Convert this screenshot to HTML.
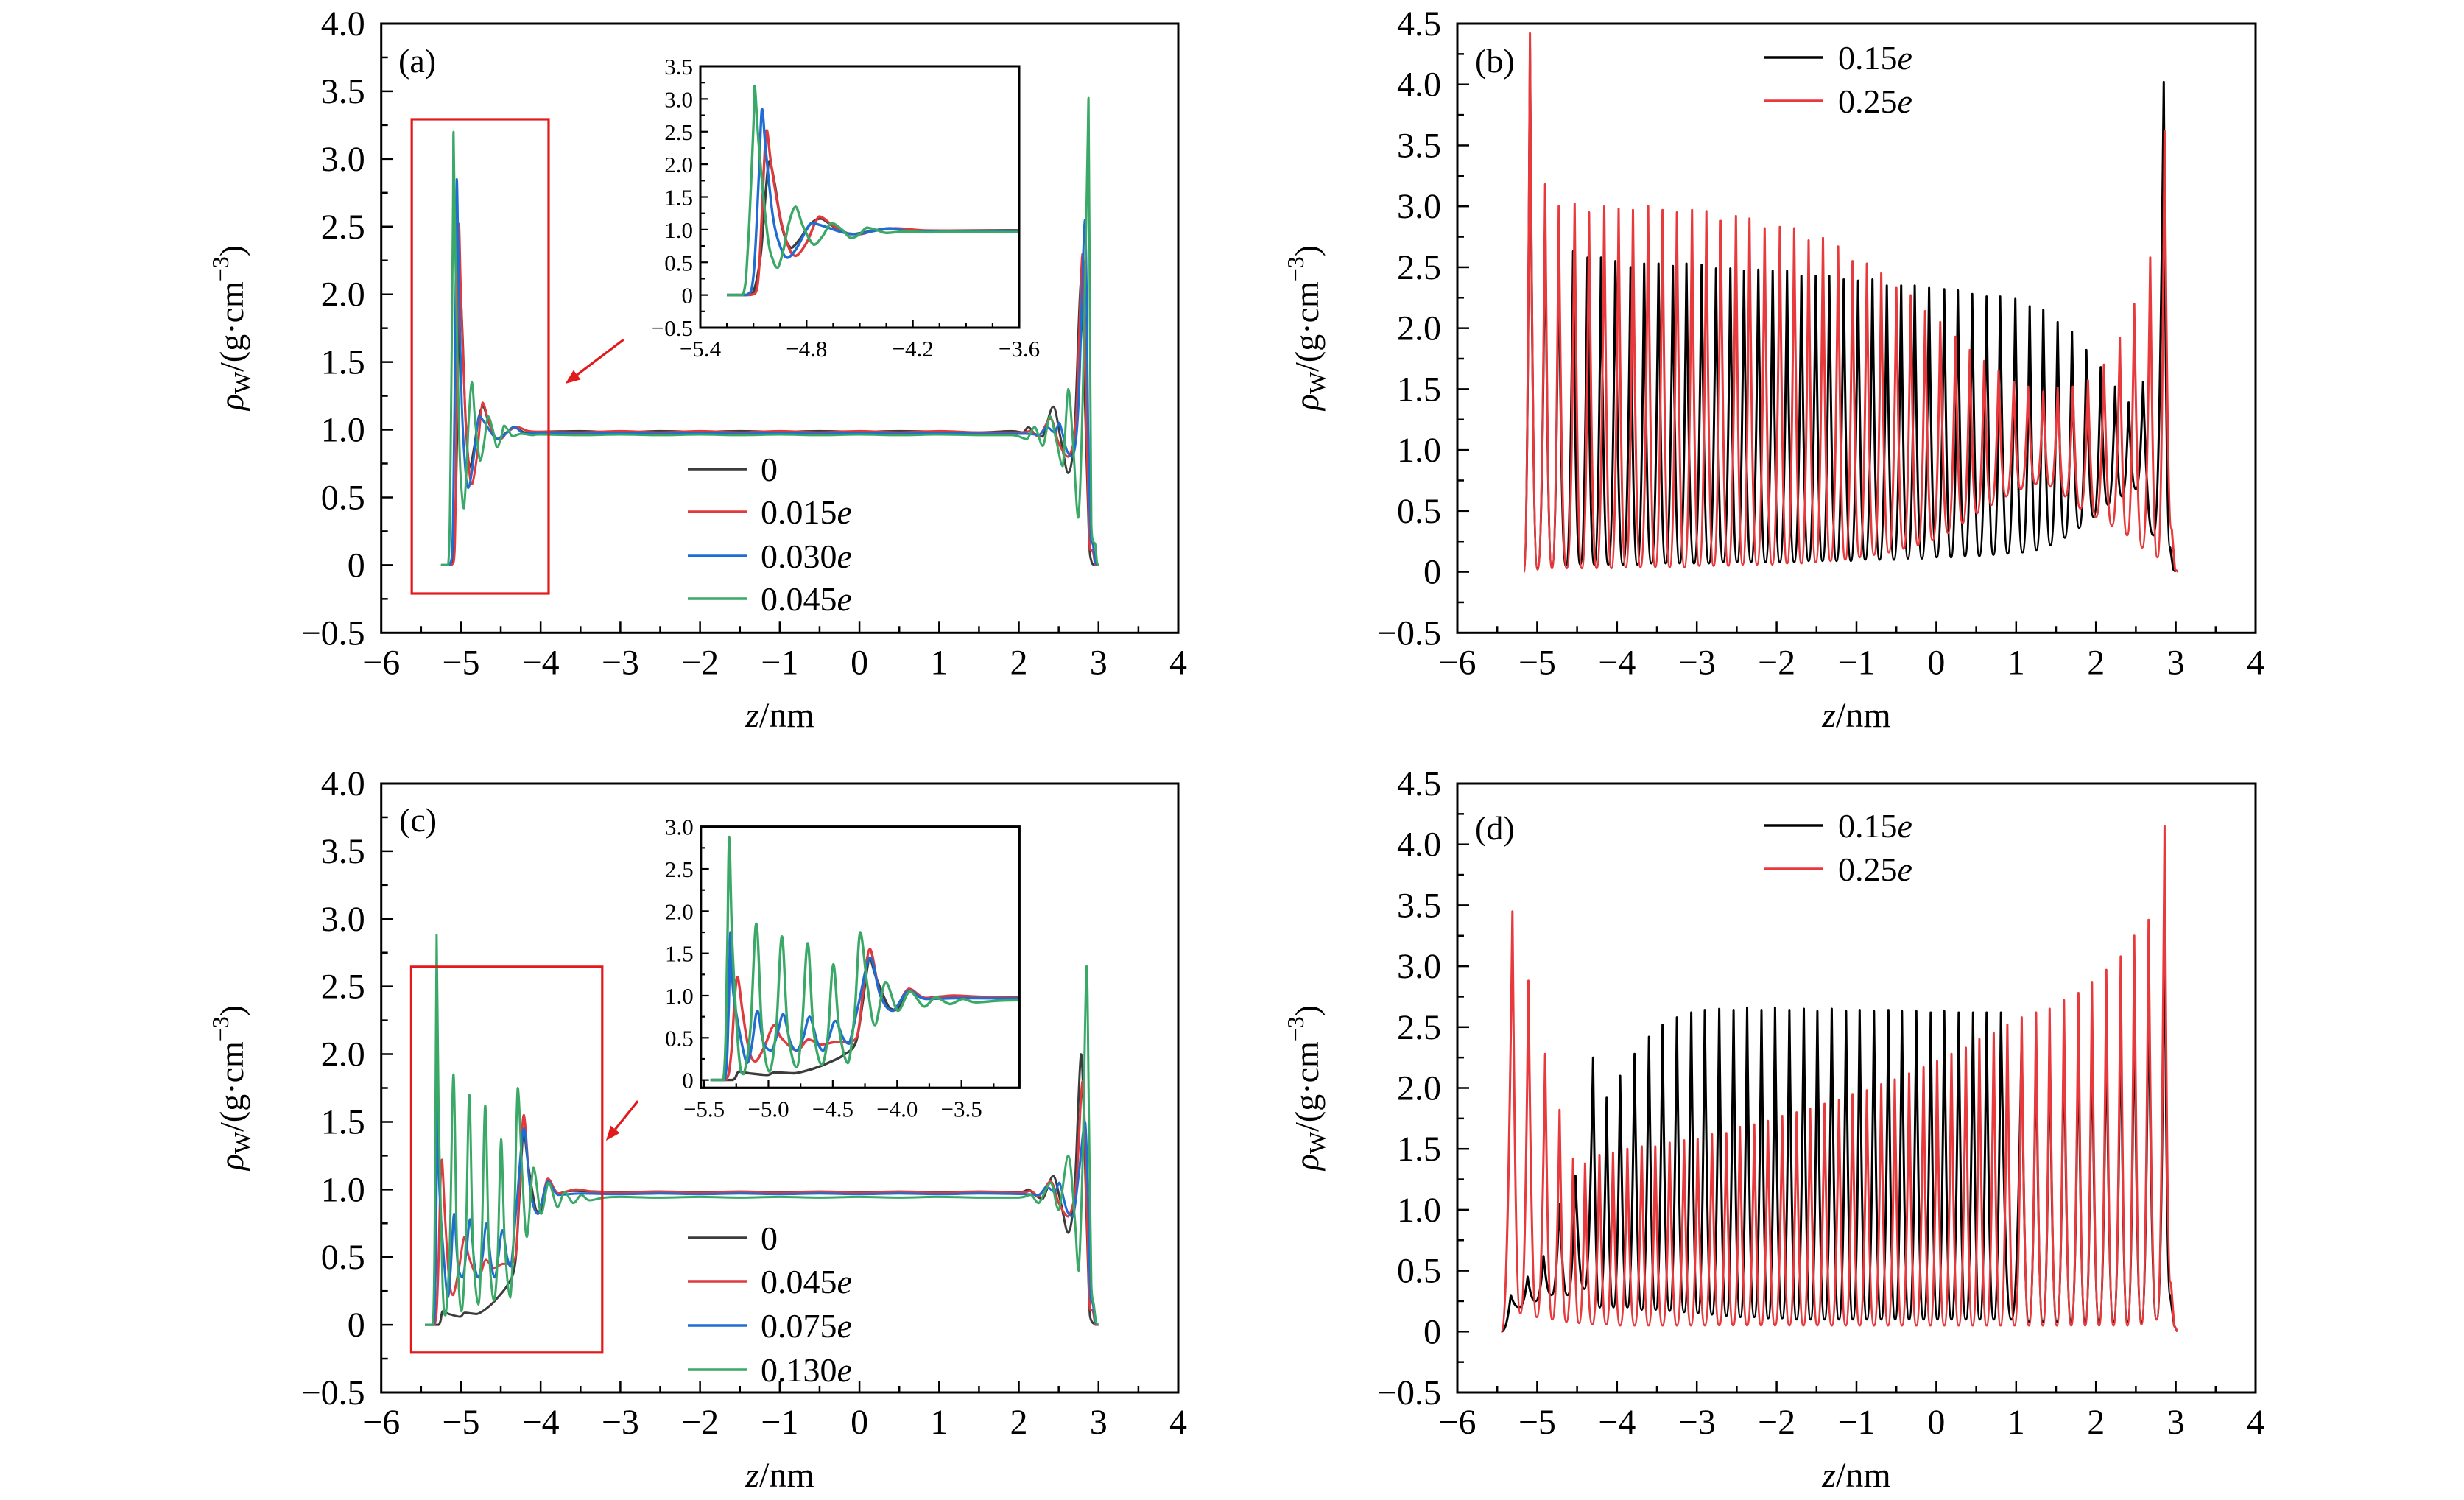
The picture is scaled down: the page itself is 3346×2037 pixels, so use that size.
<!DOCTYPE html>
<html>
<head>
<meta charset="utf-8">
<style>
html,body{margin:0;padding:0;background:#fff;}
svg{display:block;}
text{font-family:"Liberation Serif","DejaVu Serif",serif;fill:#000;}
</style>
</head>
<body>
<svg id="chart" xmlns="http://www.w3.org/2000/svg" width="3346" height="2037" viewBox="0 0 3346 2037">
<rect x="0" y="0" width="3346" height="2037" fill="#fff"/>
<defs>
<clipPath id="clipIA"><rect x="951" y="90" width="433" height="355"/></clipPath>
<clipPath id="clipIC"><rect x="951.7" y="1122.7" width="432.6" height="354.6"/></clipPath>
</defs>

<text x="541" y="98" font-size="46">(a)</text>
<text x="2003" y="98" font-size="46">(b)</text>
<text x="542" y="1129" font-size="46">(c)</text>
<text x="2003" y="1140" font-size="46">(d)</text>

<text x="1059" y="987" font-size="48" text-anchor="middle"><tspan font-style="italic">z</tspan>/nm</text>
<text x="2521" y="987" font-size="48" text-anchor="middle"><tspan font-style="italic">z</tspan>/nm</text>
<text x="1059" y="2019" font-size="48" text-anchor="middle"><tspan font-style="italic">z</tspan>/nm</text>
<text x="2521" y="2019" font-size="48" text-anchor="middle"><tspan font-style="italic">z</tspan>/nm</text>

<text transform="translate(330,445) rotate(-90)" font-size="46" text-anchor="middle"><tspan font-style="italic">ρ</tspan><tspan font-size="32" dy="10">W</tspan><tspan dy="-10">/(g·cm</tspan><tspan font-size="32" dy="-20">−3</tspan><tspan dy="20">)</tspan></text>
<text transform="translate(1790,445) rotate(-90)" font-size="46" text-anchor="middle"><tspan font-style="italic">ρ</tspan><tspan font-size="32" dy="10">W</tspan><tspan dy="-10">/(g·cm</tspan><tspan font-size="32" dy="-20">−3</tspan><tspan dy="20">)</tspan></text>
<text transform="translate(330,1477) rotate(-90)" font-size="46" text-anchor="middle"><tspan font-style="italic">ρ</tspan><tspan font-size="32" dy="10">W</tspan><tspan dy="-10">/(g·cm</tspan><tspan font-size="32" dy="-20">−3</tspan><tspan dy="20">)</tspan></text>
<text transform="translate(1790,1477) rotate(-90)" font-size="46" text-anchor="middle"><tspan font-style="italic">ρ</tspan><tspan font-size="32" dy="10">W</tspan><tspan dy="-10">/(g·cm</tspan><tspan font-size="32" dy="-20">−3</tspan><tspan dy="20">)</tspan></text>

<g>
<line x1="934" y1="637" x2="1015" y2="637" stroke="#3c3c3c" stroke-width="3.5"/>
<text x="1033" y="653" font-size="46">0</text>
<line x1="934" y1="695" x2="1015" y2="695" stroke="#e0393e" stroke-width="3.5"/>
<text x="1033" y="711" font-size="46">0.015<tspan font-style="italic">e</tspan></text>
<line x1="934" y1="755" x2="1015" y2="755" stroke="#1f6dd3" stroke-width="3.5"/>
<text x="1033" y="771" font-size="46">0.030<tspan font-style="italic">e</tspan></text>
<line x1="934" y1="813" x2="1015" y2="813" stroke="#3aa866" stroke-width="3.5"/>
<text x="1033" y="829" font-size="46">0.045<tspan font-style="italic">e</tspan></text>
</g>
<g>
<line x1="934" y1="1681" x2="1015" y2="1681" stroke="#3c3c3c" stroke-width="3.5"/>
<text x="1033" y="1697" font-size="46">0</text>
<line x1="934" y1="1740" x2="1015" y2="1740" stroke="#e0393e" stroke-width="3.5"/>
<text x="1033" y="1756" font-size="46">0.045<tspan font-style="italic">e</tspan></text>
<line x1="934" y1="1800" x2="1015" y2="1800" stroke="#1f6dd3" stroke-width="3.5"/>
<text x="1033" y="1816" font-size="46">0.075<tspan font-style="italic">e</tspan></text>
<line x1="934" y1="1860" x2="1015" y2="1860" stroke="#3aa866" stroke-width="3.5"/>
<text x="1033" y="1876" font-size="46">0.130<tspan font-style="italic">e</tspan></text>
</g>
<g>
<line x1="2395" y1="78" x2="2475" y2="78" stroke="#000" stroke-width="3.5"/>
<text x="2496" y="94" font-size="46">0.15<tspan font-style="italic">e</tspan></text>
<line x1="2395" y1="137" x2="2475" y2="137" stroke="#e8393c" stroke-width="3.5"/>
<text x="2496" y="153" font-size="46">0.25<tspan font-style="italic">e</tspan></text>
</g>
<g>
<line x1="2395" y1="1121" x2="2475" y2="1121" stroke="#000" stroke-width="3.5"/>
<text x="2496" y="1137" font-size="46">0.15<tspan font-style="italic">e</tspan></text>
<line x1="2395" y1="1180" x2="2475" y2="1180" stroke="#e8393c" stroke-width="3.5"/>
<text x="2496" y="1196" font-size="46">0.25<tspan font-style="italic">e</tspan></text>
</g>
</svg>

<script>
const mainXTicks = [-6,-5,-4,-3,-2,-1,0,1,2,3,4];
const mainXLabels = ['−6','−5','−4','−3','−2','−1','0','1','2','3','4'];
const yTicksAC = [-0.5,0,0.5,1,1.5,2,2.5,3,3.5,4];
const yLabelsAC = ['−0.5','0','0.5','1.0','1.5','2.0','2.5','3.0','3.5','4.0'];
const yTicksBD = [-0.5,0,0.5,1,1.5,2,2.5,3,3.5,4,4.5];
const yLabelsBD = ['−0.5','0','0.5','1.0','1.5','2.0','2.5','3.0','3.5','4.0','4.5'];
const insetAXTicks = [-5.4,-4.8,-4.2,-3.6];
const insetAXLabels = ['−5.4','−4.8','−4.2','−3.6'];
const insetAYTicks = [-0.5,0,0.5,1,1.5,2,2.5,3,3.5];
const insetAYLabels = ['−0.5','0','0.5','1.0','1.5','2.0','2.5','3.0','3.5'];
const insetCXTicks = [-5.5,-5.0,-4.5,-4.0,-3.5];
const insetCXLabels = ['−5.5','−5.0','−4.5','−4.0','−3.5'];
const insetCYTicks = [0,0.5,1,1.5,2,2.5,3];
const insetCYLabels = ['0','0.5','1.0','1.5','2.0','2.5','3.0'];

const seriesA_q0 = [[-5.25,0],[-5.14,0],[-5.10,0.05],[-5.06,0.6],[-5.03,1.6],[-5.01,2.05],[-4.98,1.7],[-4.94,1.05],[-4.89,0.72],[-4.84,0.85],[-4.78,1.08],[-4.72,1.17],[-4.65,1.05],[-4.55,0.93],[-4.45,0.97],[-4.33,1.02],[-4.2,0.98],[-4.0,0.985],[-3.5,0.99],[-3,0.98],[-2.5,0.99],[-2,0.985],[-1.5,0.99],[-1,0.985],[-0.5,0.99],[0,0.985],[0.5,0.99],[1,0.985],[1.5,0.98],[1.9,0.99],[2.05,0.98],[2.12,1.02],[2.2,0.97],[2.3,0.95],[2.43,1.17],[2.52,0.95],[2.62,0.68],[2.7,1.0],[2.78,2.1],[2.83,1.2],[2.88,0.2],[2.91,0.03],[2.95,0],[3.0,0]];
const seriesA_q015 = [[-5.25,0],[-5.12,0],[-5.08,0.1],[-5.06,0.8],[-5.04,2.0],[-5.025,2.52],[-5.0,2.0],[-4.95,1.2],[-4.9,0.72],[-4.86,0.6],[-4.8,0.8],[-4.73,1.2],[-4.66,1.08],[-4.58,0.95],[-4.5,0.93],[-4.42,0.98],[-4.3,1.02],[-4.15,0.99],[-4,0.985],[-3.5,0.98],[-3,0.99],[-2.5,0.98],[-2,0.99],[-1.5,0.98],[-1,0.99],[-0.5,0.98],[0,0.99],[0.5,0.98],[1,0.99],[1.5,0.98],[2.0,0.98],[2.15,0.99],[2.25,0.95],[2.4,1.08],[2.5,0.9],[2.62,0.8],[2.72,1.1],[2.8,2.3],[2.85,1.0],[2.89,0.12],[2.93,0.1],[2.96,0.0],[3.0,0]];
const seriesA_q030 = [[-5.25,0],[-5.14,0],[-5.1,0.3],[-5.07,1.8],[-5.052,2.85],[-5.03,2.2],[-4.99,1.2],[-4.95,0.75],[-4.91,0.57],[-4.86,0.7],[-4.8,1.0],[-4.77,1.1],[-4.7,1.05],[-4.6,0.96],[-4.52,0.93],[-4.42,0.98],[-4.33,1.02],[-4.2,0.97],[-4,0.975],[-3.5,0.97],[-3,0.975],[-2.5,0.97],[-2,0.975],[-1.5,0.97],[-1,0.975],[-0.5,0.97],[0,0.975],[0.5,0.97],[1,0.975],[1.5,0.97],[2.1,0.97],[2.25,0.96],[2.35,1.02],[2.45,0.98],[2.51,1.05],[2.6,0.85],[2.68,0.8],[2.75,1.2],[2.83,2.55],[2.87,1.0],[2.9,0.2],[2.93,0.15],[2.96,0.02],[3.0,0]];
const seriesA_q045 = [[-5.25,0],[-5.16,0],[-5.13,0.8],[-5.1,2.6],[-5.093,3.2],[-5.07,2.3],[-5.02,0.9],[-4.985,0.5],[-4.962,0.42],[-4.93,0.7],[-4.9,1.1],[-4.862,1.35],[-4.82,1.05],[-4.76,0.77],[-4.71,0.9],[-4.66,1.1],[-4.6,1.0],[-4.55,0.87],[-4.5,0.93],[-4.46,1.03],[-4.4,0.99],[-4.35,0.95],[-4.25,0.97],[-4.1,0.96],[-4,0.965],[-3.5,0.96],[-3,0.965],[-2.5,0.96],[-2,0.965],[-1.5,0.96],[-1,0.965],[-0.5,0.96],[0,0.965],[0.5,0.96],[1,0.965],[1.5,0.96],[1.9,0.96],[2.0,0.95],[2.1,0.93],[2.2,1.02],[2.3,0.88],[2.39,1.1],[2.47,0.92],[2.55,0.73],[2.62,1.3],[2.68,0.9],[2.745,0.35],[2.8,1.2],[2.86,3.0],[2.875,3.45],[2.89,2.0],[2.91,0.3],[2.93,0.18],[2.96,0.15],[2.98,0.02],[3.0,0]];

const seriesC_q0 = [[-5.45,0],[-5.28,0],[-5.23,0.1],[-5.15,0.08],[-5.01,0.06],[-4.95,0.09],[-4.80,0.08],[-4.66,0.13],[-4.54,0.2],[-4.41,0.3],[-4.32,0.45],[-4.27,0.9],[-4.23,1.35],[-4.21,1.45],[-4.16,1.2],[-4.06,0.85],[-4.0,0.83],[-3.91,1.05],[-3.78,0.97],[-3.6,0.99],[-3,0.98],[-2.5,0.985],[-2,0.98],[-1.5,0.985],[-1,0.98],[-0.5,0.985],[0,0.98],[0.5,0.985],[1,0.98],[1.5,0.985],[2.0,0.98],[2.12,1.0],[2.2,0.96],[2.3,0.93],[2.43,1.1],[2.52,0.92],[2.62,0.68],[2.7,1.0],[2.78,2.0],[2.83,1.2],[2.88,0.2],[2.91,0.03],[3.0,0]];
const seriesC_q045 = [[-5.45,0],[-5.33,0],[-5.29,0.3],[-5.26,1.0],[-5.238,1.22],[-5.2,0.8],[-5.15,0.35],[-5.10,0.22],[-5.03,0.4],[-4.957,0.65],[-4.9,0.5],[-4.78,0.35],[-4.69,0.48],[-4.59,0.42],[-4.48,0.45],[-4.38,0.45],[-4.31,0.52],[-4.26,1.1],[-4.21,1.55],[-4.13,1.0],[-4.03,0.82],[-3.91,1.08],[-3.78,0.97],[-3.56,1.0],[-3.3,0.98],[-3,0.975],[-2.5,0.98],[-2,0.975],[-1.5,0.98],[-1,0.975],[-0.5,0.98],[0,0.975],[0.5,0.98],[1,0.975],[1.5,0.98],[2.0,0.975],[2.15,0.99],[2.25,0.95],[2.4,1.06],[2.5,0.9],[2.62,0.8],[2.72,1.05],[2.8,1.8],[2.85,0.9],[2.89,0.12],[2.93,0.1],[2.96,0.0],[3.0,0]];
const seriesC_q075 = [[-5.45,0],[-5.34,0],[-5.31,0.8],[-5.295,1.75],[-5.27,1.0],[-5.17,0.2],[-5.13,0.4],[-5.086,0.82],[-5.04,0.45],[-4.977,0.35],[-4.93,0.55],[-4.885,0.78],[-4.83,0.45],[-4.78,0.35],[-4.73,0.5],[-4.68,0.75],[-4.62,0.45],[-4.574,0.35],[-4.53,0.5],[-4.48,0.7],[-4.42,0.5],[-4.373,0.43],[-4.3,0.9],[-4.21,1.45],[-4.13,1.0],[-4.035,0.82],[-3.91,1.06],[-3.78,0.96],[-3.5,0.97],[-3,0.965],[-2.5,0.97],[-2,0.965],[-1.5,0.97],[-1,0.965],[-0.5,0.97],[0,0.965],[0.5,0.97],[1,0.965],[1.5,0.97],[2.1,0.965],[2.25,0.96],[2.35,1.02],[2.45,0.98],[2.51,1.05],[2.6,0.85],[2.68,0.8],[2.75,1.1],[2.83,1.5],[2.87,0.9],[2.9,0.2],[2.93,0.15],[2.96,0.02],[3.0,0]];
const seriesC_q130 = [[-5.45,0],[-5.35,0],[-5.32,1.5],[-5.305,2.88],[-5.28,1.6],[-5.23,0.3],[-5.193,0.07],[-5.14,0.6],[-5.094,1.85],[-5.05,0.6],[-4.994,0.1],[-4.94,0.6],[-4.895,1.7],[-4.85,0.6],[-4.783,0.15],[-4.74,0.6],[-4.695,1.62],[-4.65,0.6],[-4.588,0.18],[-4.54,0.5],[-4.496,1.37],[-4.45,0.6],[-4.383,0.2],[-4.33,0.8],[-4.287,1.75],[-4.23,1.1],[-4.172,0.65],[-4.09,1.16],[-3.994,0.82],[-3.90,1.05],[-3.79,0.87],[-3.70,0.98],[-3.59,0.9],[-3.49,0.96],[-3.39,0.92],[-3.2,0.94],[-3,0.945],[-2.5,0.94],[-2,0.945],[-1.5,0.94],[-1,0.945],[-0.5,0.94],[0,0.945],[0.5,0.94],[1,0.945],[1.5,0.94],[2.0,0.94],[2.15,0.96],[2.25,0.9],[2.4,1.05],[2.5,0.85],[2.62,1.25],[2.7,0.8],[2.75,0.4],[2.8,1.2],[2.85,2.65],[2.88,1.5],[2.91,0.3],[2.94,0.15],[2.97,0.02],[3.0,0]];

const bBlackPeakZ = [-5.09,-4.90,-4.73,-4.55,-4.37,-4.20,-4.02,-3.83,-3.66,-3.48,-3.30,-3.13,-2.94,-2.76,-2.58,-2.41,-2.23,-2.05,-1.87,-1.69,-1.51,-1.34,-1.16,-0.98,-0.80,-0.62,-0.44,-0.27,-0.09,0.10,0.27,0.45,0.63,0.80,0.99,1.17,1.34,1.52,1.70,1.88,2.06,2.24,2.41,2.59,2.85];
const bBlackPeakV = [4.30,2.95,2.70,2.63,2.58,2.58,2.55,2.50,2.53,2.53,2.51,2.53,2.52,2.49,2.49,2.47,2.48,2.47,2.47,2.43,2.43,2.43,2.40,2.39,2.40,2.35,2.35,2.35,2.33,2.32,2.31,2.28,2.26,2.26,2.24,2.18,2.15,2.05,1.97,1.82,1.68,1.52,1.39,1.56,4.02];
const bBlackTroughV = [0.03,0.04,0.05,0.06,0.06,0.06,0.06,0.06,0.07,0.07,0.07,0.07,0.07,0.08,0.08,0.08,0.08,0.08,0.08,0.09,0.09,0.09,0.09,0.10,0.10,0.10,0.11,0.11,0.12,0.12,0.13,0.13,0.14,0.15,0.16,0.18,0.22,0.28,0.36,0.45,0.55,0.62,0.68,0.30];
const bBlackStart = -5.17;
const bBlackTailZ = [2.93,2.97,3.0];
const bBlackTailV = [0.2,0.02,0];
const bRedPeakZ = [-5.09,-4.90,-4.73,-4.53,-4.35,-4.16,-3.98,-3.80,-3.61,-3.43,-3.25,-3.06,-2.88,-2.70,-2.51,-2.34,-2.15,-1.96,-1.78,-1.60,-1.42,-1.23,-1.05,-0.87,-0.69,-0.50,-0.32,-0.14,0.05,0.24,0.42,0.60,0.78,0.97,1.15,1.34,1.52,1.71,1.90,2.10,2.30,2.48,2.68,2.86];
const bRedPeakV = [4.42,3.18,3.00,3.02,2.95,3.00,2.98,2.97,3.00,2.97,2.95,2.97,2.96,2.88,2.92,2.90,2.82,2.83,2.82,2.72,2.74,2.67,2.55,2.53,2.45,2.33,2.27,2.14,2.05,1.93,1.82,1.73,1.65,1.56,1.52,1.48,1.51,1.52,1.57,1.70,1.92,2.20,2.58,3.62];
const bRedTroughV = [0.02,0.03,0.03,0.03,0.03,0.03,0.04,0.04,0.04,0.04,0.04,0.05,0.05,0.05,0.06,0.06,0.06,0.07,0.07,0.08,0.09,0.10,0.12,0.14,0.16,0.19,0.22,0.26,0.32,0.40,0.48,0.55,0.62,0.68,0.72,0.70,0.62,0.52,0.45,0.38,0.30,0.20,0.12];
const bRedStart = -5.17;
const bRedTailZ = [2.95,2.99,3.03];
const bRedTailV = [0.35,0.02,0];

const dBlackPeakZ = [-5.33,-5.12,-4.92,-4.72,-4.52,-4.30,-4.13,-3.96,-3.78,-3.60,-3.43,-3.25,-3.07,-2.90,-2.72,-2.54,-2.37,-2.19,-2.02,-1.84,-1.66,-1.49,-1.31,-1.13,-0.96,-0.78,-0.60,-0.43,-0.25,-0.07,0.10,0.28,0.46,0.63,0.81,1.07,1.25,1.42,1.60,1.78,1.95,2.13,2.31,2.48,2.66,2.86];
const dBlackPeakV = [0.30,0.45,0.62,1.05,1.28,2.25,1.92,2.10,2.28,2.42,2.52,2.58,2.62,2.64,2.65,2.64,2.66,2.64,2.66,2.64,2.65,2.63,2.65,2.63,2.64,2.63,2.64,2.63,2.63,2.62,2.63,2.62,2.62,2.62,2.62,2.45,2.45,2.45,2.50,2.50,2.55,2.60,2.70,2.80,2.90,3.50];
const dBlackTroughV = [0.20,0.25,0.30,0.30,0.35,0.20,0.20,0.20,0.18,0.18,0.17,0.16,0.15,0.14,0.13,0.12,0.12,0.11,0.11,0.10,0.10,0.10,0.10,0.10,0.10,0.10,0.10,0.10,0.10,0.10,0.10,0.10,0.10,0.10,0.10,0.08,0.08,0.08,0.08,0.08,0.08,0.08,0.08,0.08,0.10];
const dBlackStart = -5.45;
const dBlackTailZ = [2.93,2.98,3.02];
const dBlackTailV = [0.3,0.05,0];
const dRedPeakZ = [-5.31,-5.11,-4.90,-4.72,-4.55,-4.40,-4.22,-4.05,-3.87,-3.69,-3.52,-3.34,-3.16,-2.99,-2.81,-2.63,-2.46,-2.28,-2.11,-1.93,-1.75,-1.58,-1.40,-1.22,-1.05,-0.87,-0.69,-0.52,-0.34,-0.16,0.01,0.19,0.37,0.54,0.72,0.89,1.07,1.25,1.42,1.60,1.78,1.95,2.13,2.31,2.48,2.66,2.86];
const dRedPeakV = [3.45,2.88,2.28,1.82,1.42,1.38,1.45,1.47,1.50,1.52,1.52,1.55,1.57,1.58,1.62,1.63,1.68,1.70,1.73,1.77,1.80,1.83,1.87,1.90,1.95,1.98,2.03,2.07,2.12,2.17,2.22,2.28,2.33,2.40,2.45,2.52,2.58,2.62,2.65,2.72,2.78,2.87,2.97,3.08,3.25,3.38,4.15];
const dRedTroughV = [0.15,0.12,0.10,0.08,0.07,0.06,0.06,0.05,0.05,0.05,0.05,0.05,0.05,0.05,0.05,0.05,0.05,0.05,0.05,0.05,0.05,0.05,0.05,0.05,0.05,0.05,0.05,0.05,0.05,0.05,0.05,0.05,0.05,0.05,0.05,0.05,0.05,0.05,0.05,0.05,0.05,0.05,0.05,0.05,0.06,0.10];
const dRedStart = -5.45;
const dRedTailZ = [2.94,2.98,3.02];
const dRedTailV = [0.4,0.05,0];

const boxA = [-5.617,-3.90,-0.21,3.293];
const boxC = [-5.624,-3.227,-0.205,2.646];
const arrowA = [-2.96,1.665,-3.69,1.34];
const arrowC = [-2.78,1.654,-3.18,1.36];

const NS = 'http://www.w3.org/2000/svg';
const svg = document.getElementById('chart');
function mk(tag, attrs, parent) {
  const e = document.createElementNS(NS, tag);
  for (const k in attrs) e.setAttribute(k, attrs[k]);
  (parent || svg).appendChild(e);
  return e;
}
const PA = {x0:517.7,x1:1600,y0:859.3,y1:32,xmin:-6,xmax:4,ymin:-0.5,ymax:4};
const PB = {x0:1979,x1:3063,y0:859.3,y1:32,xmin:-6,xmax:4,ymin:-0.5,ymax:4.5};
const PC = {x0:517.7,x1:1600,y0:1891,y1:1064,xmin:-6,xmax:4,ymin:-0.5,ymax:4};
const PD = {x0:1979,x1:3063,y0:1891,y1:1064,xmin:-6,xmax:4,ymin:-0.5,ymax:4.5};
const IA = {x0:951,x1:1384,y0:445,y1:90,xmin:-5.4,xmax:-3.6,ymin:-0.5,ymax:3.5};
const IC = {x0:951.7,x1:1384.3,y0:1477.3,y1:1122.7,xmin:-5.525,xmax:-3.05,ymin:-0.093,ymax:3.0};
function sx(p,v){return p.x0+(v-p.xmin)/(p.xmax-p.xmin)*(p.x1-p.x0);}
function sy(p,v){return p.y0-(v-p.ymin)/(p.ymax-p.ymin)*(p.y0-p.y1);}

function axes(p, name, xt, xl, yt, yl, o) {
  const g = mk('g', {});
  
  
  const frame = mk('rect', {x:p.x0,y:p.y1,width:p.x1-p.x0,height:p.y0-p.y1,fill:o.fill||'none',stroke:'#000','stroke-width':o.sw}, g);
  
  
  const isMajorX = v => xt.some(t => Math.abs(t-v) < 1e-6);
  const isMajorY = v => yt.some(t => Math.abs(t-v) < 1e-6);
  for (let k = Math.ceil(p.xmin/o.xm - 1e-6); k*o.xm <= p.xmax + 1e-6; k++) {
    const v = k*o.xm; const maj = isMajorX(v);
    const x = sx(p, v);
    const t = mk('line', {x1:x,x2:x,y1:p.y0,y2:p.y0-(maj?o.maj:o.min),stroke:'#000','stroke-width':o.tw}, g);
    
    
  }
  for (let k = Math.ceil(p.ymin/o.ym - 1e-6); k*o.ym <= p.ymax + 1e-6; k++) {
    const v = k*o.ym; const maj = isMajorY(v);
    const y = sy(p, v);
    const t = mk('line', {x1:p.x0,x2:p.x0+(maj?o.maj:o.min),y1:y,y2:y,stroke:'#000','stroke-width':o.tw}, g);
    
    
  }
  xt.forEach((v,i) => {
    const t = mk('text', {x:sx(p,v),y:p.y0+o.xdy,'font-size':o.fs,'text-anchor':'middle'}, g);
    
    
    t.textContent = xl[i];
  });
  yt.forEach((v,i) => {
    const t = mk('text', {x:p.x0-o.ydx,y:sy(p,v)+o.ydy,'font-size':o.fs,'text-anchor':'end'}, g);
    
    
    t.textContent = yl[i];
  });
}
const mainOpt = {sw:3,tw:2.5,maj:16,min:9,xm:0.5,ym:0.25,fs:48,xdy:56,ydx:22,ydy:16};
axes(PA,'axes-a',mainXTicks,mainXLabels,yTicksAC,yLabelsAC,mainOpt);
axes(PB,'axes-b',mainXTicks,mainXLabels,yTicksBD,yLabelsBD,mainOpt);
axes(PC,'axes-c',mainXTicks,mainXLabels,yTicksAC,yLabelsAC,mainOpt);
axes(PD,'axes-d',mainXTicks,mainXLabels,yTicksBD,yLabelsBD,mainOpt);

function clampY(v, a, b) { const lo = Math.min(a,b), hi = Math.max(a,b); return Math.max(lo, Math.min(hi, v)); }
function crPath(p, pts) {
  const P = pts.map(q => [sx(p,q[0]), sy(p,q[1])]);
  let d = 'M' + P[0][0].toFixed(1) + ',' + P[0][1].toFixed(1);
  for (let i = 0; i < P.length-1; i++) {
    const p0 = P[Math.max(i-1,0)], p1 = P[i], p2 = P[i+1], p3 = P[Math.min(i+2,P.length-1)];
    const c1 = [p1[0]+(p2[0]-p0[0])/6, clampY(p1[1]+(p2[1]-p0[1])/6, p1[1], p2[1])];
    const c2 = [p2[0]-(p3[0]-p1[0])/6, clampY(p2[1]-(p3[1]-p1[1])/6, p1[1], p2[1])];
    c1[0] = Math.max(p1[0], Math.min(p2[0], c1[0]));
    c2[0] = Math.max(p1[0], Math.min(p2[0], c2[0]));
    d += 'C' + c1[0].toFixed(1)+','+c1[1].toFixed(1)+' '+c2[0].toFixed(1)+','+c2[1].toFixed(1)+' '+p2[0].toFixed(1)+','+p2[1].toFixed(1);
  }
  return d;
}
function line(p, pts, color, w, name, clip) {
  const e = mk('path', {d:crPath(p,pts),fill:'none',stroke:color,'stroke-width':w,'stroke-linejoin':'round'});
  if (clip) e.setAttribute('clip-path', clip);
  
  
}
const cBlk = '#3c3c3c', cRed = '#e0393e', cBlu = '#1f6dd3', cGrn = '#3aa866';
line(PA, seriesA_q0, cBlk, 3, 'series-a-0');
line(PA, seriesA_q015, cRed, 3, 'series-a-0.015e');
line(PA, seriesA_q030, cBlu, 3, 'series-a-0.030e');
line(PA, seriesA_q045, cGrn, 3, 'series-a-0.045e');
line(PC, seriesC_q0, cBlk, 3, 'series-c-0');
line(PC, seriesC_q045, cRed, 3, 'series-c-0.045e');
line(PC, seriesC_q075, cBlu, 3, 'series-c-0.075e');
line(PC, seriesC_q130, cGrn, 3, 'series-c-0.130e');

function spikePath(p, zs, vs, ts, start, tz, tv) {
  const X = v => sx(p,v), Y = v => sy(p,v);
  const f = n => n.toFixed(1);
  let d = 'M' + f(X(start)) + ',' + f(Y(0));
  {
    const x0 = X(start), y0 = Y(0), x1 = X(zs[0]), y1 = Y(vs[0]), w = x1-x0;
    d += 'C' + f(x0+0.45*w)+','+f(y0)+' '+f(x0+0.7*w)+','+f(y0+(y1-y0)*0.35)+' '+f(x1)+','+f(y1);
  }
  for (let i = 1; i < zs.length; i++) {
    const xa = X(zs[i-1]), ya = Y(vs[i-1]), xb = X(zs[i]), yb = Y(vs[i]);
    const xm = (xa+xb)/2, yt = Y(ts[i-1]);
    let w = xm - xa;
    d += 'C' + f(xa+0.3*w)+','+f(yt+(ya-yt)*0.35)+' '+f(xa+0.55*w)+','+f(yt)+' '+f(xm)+','+f(yt);
    w = xb - xm;
    d += 'C' + f(xb-0.55*w)+','+f(yt)+' '+f(xb-0.3*w)+','+f(yt+(yb-yt)*0.35)+' '+f(xb)+','+f(yb);
  }
  {
    const n = zs.length-1, xa = X(zs[n]), ya = Y(vs[n]), xb = X(tz[0]), yb = Y(tv[0]), w = xb-xa;
    d += 'C' + f(xa+0.3*w)+','+f(yb+(ya-yb)*0.35)+' '+f(xa+0.55*w)+','+f(yb)+' '+f(xb)+','+f(yb);
  }
  for (let i = 1; i < tz.length; i++) d += 'L' + f(X(tz[i])) + ',' + f(Y(tv[i]));
  return d;
}
function spikes(p, zs, vs, ts, start, tz, tv, color, name) {
  const e = mk('path', {d:spikePath(p,zs,vs,ts,start,tz,tv),fill:'none',stroke:color,'stroke-width':3,'stroke-linejoin':'round'});
  
  
}
spikes(PB, bBlackPeakZ, bBlackPeakV, bBlackTroughV, bBlackStart, bBlackTailZ, bBlackTailV, '#000', 'series-b-0.15e');
spikes(PB, bRedPeakZ, bRedPeakV, bRedTroughV, bRedStart, bRedTailZ, bRedTailV, '#e8393c', 'series-b-0.25e');
spikes(PD, dBlackPeakZ, dBlackPeakV, dBlackTroughV, dBlackStart, dBlackTailZ, dBlackTailV, '#000', 'series-d-0.15e');
spikes(PD, dRedPeakZ, dRedPeakV, dRedTroughV, dRedStart, dRedTailZ, dRedTailV, '#e8393c', 'series-d-0.25e');

function zoomBox(p, b, name) {
  const e = mk('rect', {x:sx(p,b[0]),y:sy(p,b[3]),width:sx(p,b[1])-sx(p,b[0]),height:sy(p,b[2])-sy(p,b[3]),fill:'none',stroke:'#e31a1c','stroke-width':3.2});
  
  
}
zoomBox(PA, boxA, 'zoom-box-a');
zoomBox(PC, boxC, 'zoom-box-c');
function arrow(p, a, name) {
  const x1 = sx(p,a[0]), y1 = sy(p,a[1]), x2 = sx(p,a[2]), y2 = sy(p,a[3]);
  const ang = Math.atan2(y2-y1, x2-x1), L = 20, Wd = 8;
  const bx = x2 - L*Math.cos(ang), by = y2 - L*Math.sin(ang);
  const g = mk('g', {});
  
  
  mk('line', {x1:x1,y1:y1,x2:bx,y2:by,stroke:'#e31a1c','stroke-width':3.2}, g);
  const px = -Math.sin(ang)*Wd, py = Math.cos(ang)*Wd;
  mk('polygon', {points:`${x2},${y2} ${bx+px},${by+py} ${bx-px},${by-py}`, fill:'#e31a1c'}, g);
}
arrow(PA, arrowA, 'zoom-arrow-a');
arrow(PC, arrowC, 'zoom-arrow-c');

const insetOpt = {sw:3,tw:2.2,maj:11,min:6,fs:31,xdy:39,ydx:10,ydy:11,fill:'#fff'};
axes(IA,'inset-axes-a',insetAXTicks,insetAXLabels,insetAYTicks,insetAYLabels,Object.assign({},insetOpt,{xm:0.15,ym:0.25}));
axes(IC,'inset-axes-c',insetCXTicks,insetCXLabels,insetCYTicks,insetCYLabels,Object.assign({},insetOpt,{xm:0.25,ym:0.25}));
line(IA, seriesA_q0, cBlk, 3.4, 'inset-series-a-0', 'url(#clipIA)');
line(IA, seriesA_q015, cRed, 3.4, 'inset-series-a-0.015e', 'url(#clipIA)');
line(IA, seriesA_q030, cBlu, 3.4, 'inset-series-a-0.030e', 'url(#clipIA)');
line(IA, seriesA_q045, cGrn, 3.4, 'inset-series-a-0.045e', 'url(#clipIA)');
line(IC, seriesC_q0, cBlk, 3.4, 'inset-series-c-0', 'url(#clipIC)');
line(IC, seriesC_q045, cRed, 3.4, 'inset-series-c-0.045e', 'url(#clipIC)');
line(IC, seriesC_q075, cBlu, 3.4, 'inset-series-c-0.075e', 'url(#clipIC)');
line(IC, seriesC_q130, cGrn, 3.4, 'inset-series-c-0.130e', 'url(#clipIC)');
[IA, IC].forEach(p => {
  const f = mk('rect', {x:p.x0,y:p.y1,width:p.x1-p.x0,height:p.y0-p.y1,fill:'none',stroke:'#000','stroke-width':3});
  
  
});
</script>
</body>
</html>
